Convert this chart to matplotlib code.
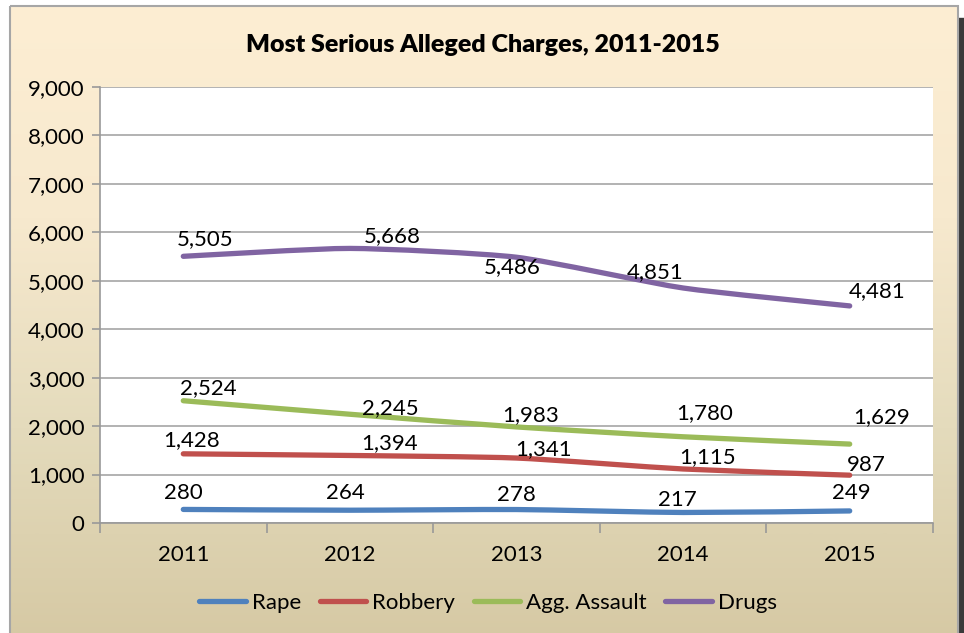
import matplotlib.pyplot as plt
import numpy as np
from matplotlib.path import Path
from matplotlib.patches import PathPatch, Rectangle
from matplotlib.lines import Line2D
from matplotlib.colors import LinearSegmentedColormap

plt.rcParams['font.family'] = ['Lato', 'DejaVu Sans']

years = ["2011", "2012", "2013", "2014", "2015"]
rape = [280, 264, 278, 217, 249]
robbery = [1428, 1394, 1341, 1115, 987]
assault = [2524, 2245, 1983, 1780, 1629]
drugs = [5505, 5668, 5486, 4851, 4481]

# label offsets in pixels relative to each point
series = [
    ("Rape", rape, "#4F81BD", [(0, 16), (-5, 17), (0, 15), (-6, 12), (2, 18)]),
    ("Robbery", robbery, "#C0504D", [(8, 14), (40, 12), (27, 9), (24, 12), (17, 10)]),
    ("Agg. Assault", assault, "#9BBB59", [(25, 13), (40, 6), (14, 12), (22, 24), (32, 27)]),
    ("Drugs", drugs, "#8064A2", [(22, 17), (42, 12), (-4, -10), (-28, 16), (27, 15)]),
]

W, H = 964, 633
fig = plt.figure(figsize=(W / 100, H / 100), dpi=100)
fig.patch.set_facecolor("white")

# background panel with gradient
bg = fig.add_axes([0, 0, 1, 1], zorder=0)
bg.set_xlim(0, W)
bg.set_ylim(H, 0)
bg.axis("off")
cmap = LinearSegmentedColormap.from_list("bg", ["#FDEED3", "#F7E9CE", "#E4DBBC", "#D6C9A4"])
grad = np.linspace(0, 1, 256).reshape(-1, 1)
bg.imshow(grad, cmap=cmap, aspect="auto", extent=[10, 958, 640, 6], zorder=1)
bg.add_patch(Rectangle((958, 18), 6, 640, color="#3a3a3a", zorder=2))
bg.add_patch(Rectangle((10, 6), 948, 640, fill=False, ec="#A6A6A6", lw=1.5, zorder=3))

ax = fig.add_axes([100 / W, 1 - 523 / H, 833 / W, 436 / H], zorder=2)
ax.set_facecolor("white")
x = np.arange(len(years))
ax.set_xlim(-0.5, len(years) - 0.5)
ax.set_ylim(0, 9000)
ax.set_yticks(np.arange(0, 9001, 1000))
ax.set_yticklabels([f"{v:,}" for v in range(0, 9001, 1000)], fontsize=16)
ax.set_xticks(x)
ax.set_xticklabels(years, fontsize=16)
ax.set_xticks(np.arange(-0.5, len(years)), minor=True)
ax.tick_params(axis="x", which="major", length=0, pad=16)
ax.tick_params(axis="x", which="minor", length=7, color="#999999", width=1.2)
ax.tick_params(axis="y", length=6, color="#999999", width=1.2, pad=5)
ax.grid(axis="y", color="#A6A6A6", lw=1.2)
ax.set_axisbelow(True)
for s in ["top", "right"]:
    ax.spines[s].set_visible(False)
for s in ["left", "bottom"]:
    ax.spines[s].set_color("#999999")
    ax.spines[s].set_linewidth(1.2)


def smooth_path(xs, ys, t=0.1):
    xs = np.asarray(xs, float)
    ys = np.asarray(ys, float)
    pts = np.column_stack([xs, ys])
    verts = [pts[0]]
    codes = [Path.MOVETO]
    n = len(pts)
    for i in range(n - 1):
        p0 = pts[i - 1] if i > 0 else pts[i]
        p1 = pts[i]
        p2 = pts[i + 1]
        p3 = pts[i + 2] if i + 2 < n else pts[i + 1]
        c1 = p1 + (p2 - p0) * t
        c2 = p2 - (p3 - p1) * t
        verts += [c1, c2, p2]
        codes += [Path.CURVE4] * 3
    return Path(verts, codes)


handles = []
for name, vals, color, offs in series:
    patch = PathPatch(smooth_path(x, vals), fill=False, ec=color, lw=3.8,
                      capstyle="round", joinstyle="round", zorder=3)
    ax.add_patch(patch)
    for xi, v, off in zip(x, vals, offs):
        ax.annotate(f"{v:,}", (xi, v), xytext=off, textcoords="offset pixels",
                    ha="center", va="center", fontsize=16, zorder=4)
    handles.append(Line2D([], [], color=color, lw=3.8, solid_capstyle="round", label=name))

fig.text(483 / W, 1 - 45 / H, "Most Serious Alleged Charges, 2011-2015",
         ha="center", va="center", fontsize=18, fontweight="heavy")

fig.legend(handles=handles, loc="center", bbox_to_anchor=(488 / W, 1 - 603 / H),
           ncol=4, frameon=False, fontsize=16, handlelength=2.1,
           handletextpad=0.25, columnspacing=0.85)

fig.savefig("out.png", dpi=100)
